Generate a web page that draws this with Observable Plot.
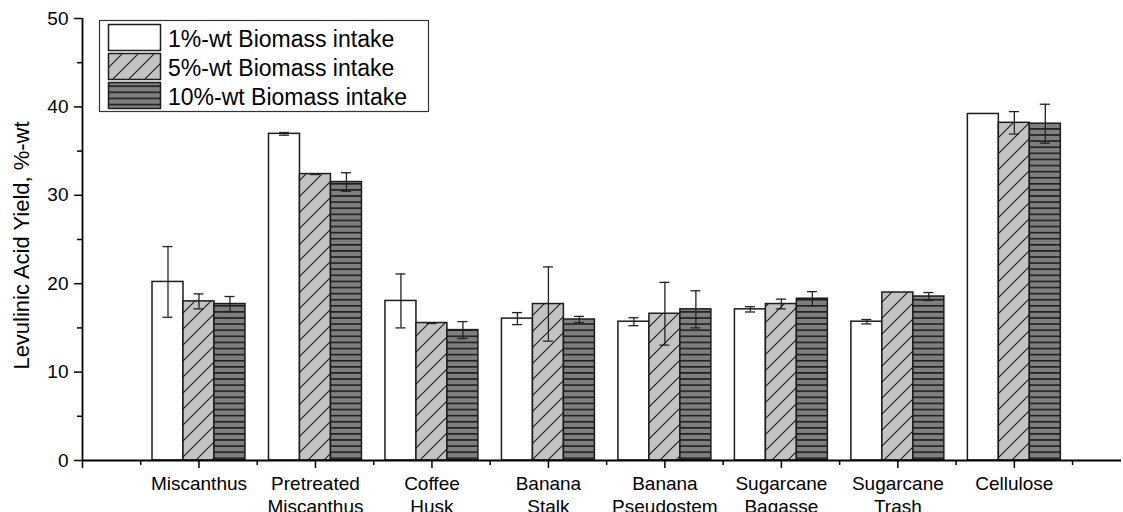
<!DOCTYPE html>
<html>
<head>
<meta charset="utf-8">
<script src="https://cdn.jsdelivr.net/npm/d3@7"></script>
<script src="https://cdn.jsdelivr.net/npm/@observablehq/plot@0.6"></script>
<style>
  html, body { margin: 0; padding: 0; background: #fff; }
  #chart { position: relative; width: 1123px; height: 512px; }
</style>
</head>
<body>
<div id="chart"></div>
<script>
// Feedstocks along the x axis (line breaks give two-line tick labels)
const categories = [
  "Miscanthus", "Pretreated\nMiscanthus", "Coffee\nHusk", "Banana\nStalk",
  "Banana\nPseudostem", "Sugarcane\nBagasse", "Sugarcane\nTrash", "Cellulose"
];
const seriesNames = ["1%-wt Biomass intake", "5%-wt Biomass intake", "10%-wt Biomass intake"];

// Levulinic acid yield (%-wt) and its error for each biomass intake
const yield1  = [20.2, 36.95, 18.05, 16.05, 15.7, 17.1, 15.7, 39.2];
const err1    = [4.0, 0.15, 3.05, 0.68, 0.45, 0.3, 0.25, 0];
const yield5  = [18.0, 32.4, 15.55, 17.7, 16.6, 17.7, 19.0, 38.2];
const err5    = [0.85, 0.05, 0.05, 4.2, 3.55, 0.55, 0, 1.27];
const yield10 = [17.7, 31.5, 14.75, 15.95, 17.1, 18.3, 18.55, 38.1];
const err10   = [0.85, 1.05, 0.96, 0.35, 2.1, 0.8, 0.45, 2.2];

const yTicks = [0, 10, 20, 30, 40, 50];
const yMinorTicks = [5, 15, 25, 35, 45];

// Flat table built from the arrays above: one row per bar
const seriesValues = [yield1, yield5, yield10];
const seriesErrors = [err1, err5, err10];
const rows = seriesValues.flatMap((vals, s) =>
  vals.map((v, i) => ({cat: i + 1, s, value: v, err: seriesErrors[s][i]}))
);

// Bar geometry in x-scale units (one category = 1 unit)
const BAR = 0.266;
const CAP = 0.086;
const center = d => d.cat + (d.s - 1) * BAR;
const fills = ["white", "url(#fill-diag)", "url(#fill-hlines)"];
const FONT = "'Liberation Sans', Arial, Helvetica, sans-serif";

const withErr = rows.filter(d => d.err > 0);
const majorX = d3.range(0, categories.length + 1);
const minorX = d3.range(0.5, categories.length + 1, 1);

const chart = Plot.plot({
  width: 1123,
  height: 512,
  marginLeft: 82,
  marginRight: 2,
  marginTop: 18,
  marginBottom: 52,
  style: {fontFamily: FONT, color: "black", background: "white", overflow: "visible"},
  x: {domain: [0, 8.92]},
  y: {domain: [0, 50]},
  marks: [
    // bars, one mark per intake level so each keeps its own fill
    ...[0, 1, 2].map(s => Plot.rect(rows.filter(d => d.s === s), {
      x1: d => center(d) - BAR / 2,
      x2: d => center(d) + BAR / 2,
      y1: 0,
      y2: "value",
      fill: fills[s],
      stroke: "#1c1c1c",
      strokeWidth: 1.5
    })),
    // error bars with caps
    Plot.ruleX(withErr, {x: center, y1: d => d.value - d.err, y2: d => d.value + d.err, stroke: "#222", strokeWidth: 1.3}),
    Plot.ruleY(withErr, {y: d => d.value + d.err, x1: d => center(d) - CAP / 2, x2: d => center(d) + CAP / 2, stroke: "#222", strokeWidth: 1.3}),
    Plot.ruleY(withErr, {y: d => d.value - d.err, x1: d => center(d) - CAP / 2, x2: d => center(d) + CAP / 2, stroke: "#222", strokeWidth: 1.3}),
    // y axis
    Plot.axisY({ticks: yTicks, tickSize: 8, tickPadding: 6, fontSize: 19, strokeWidth: 1.5, label: null}),
    Plot.axisY({ticks: yMinorTicks, tickSize: 5, tickFormat: () => "", strokeWidth: 1.5, label: null}),
    Plot.ruleX([0], {y1: 0, y2: 50, stroke: "black", strokeWidth: 1.8}),
    Plot.text(["Levulinic Acid Yield, %-wt"], {
      frameAnchor: "left", rotate: -90, lineAnchor: "top", textAnchor: "middle",
      dx: -69, dy: 6, fontSize: 22, fill: "black"
    }),
    // x axis with category labels and minor ticks between categories
    Plot.axisX({
      ticks: majorX, tickSize: 8, tickPadding: 6, fontSize: 19, lineHeight: 1.18, strokeWidth: 1.5,
      tickFormat: i => (i >= 1 ? categories[i - 1] : ""), label: null
    }),
    Plot.axisX({ticks: minorX, tickSize: 5, tickFormat: () => "", strokeWidth: 1.5, label: null}),
    Plot.ruleY([0], {stroke: "black", strokeWidth: 1.8})
  ]
});

document.getElementById("chart").appendChild(chart);

// Fill patterns for the hatched and striped bars
const svg = d3.select(chart);
const defs = svg.insert("defs", ":first-child");
const diag = defs.append("pattern")
  .attr("id", "fill-diag").attr("patternUnits", "userSpaceOnUse")
  .attr("width", 16).attr("height", 16);
diag.append("rect").attr("width", 16).attr("height", 16).attr("fill", "#c3c3c3");
diag.append("path").attr("d", "M-4,4L4,-4M0,16L16,0M12,20L20,12")
  .attr("stroke", "#1a1a1a").attr("stroke-width", 1.1);
const hl = defs.append("pattern")
  .attr("id", "fill-hlines").attr("patternUnits", "userSpaceOnUse")
  .attr("width", 8).attr("height", 6.1);
hl.append("rect").attr("width", 8).attr("height", 6.1).attr("fill", "#7f7f7f");
hl.append("rect").attr("width", 8).attr("height", 1.6).attr("fill", "#1e1e1e");

// Legend box inside the plot area, top-left
const legend = svg.append("g").attr("font-family", FONT).attr("text-anchor", "start");
legend.append("rect").attr("x", 99.5).attr("y", 20.5).attr("width", 329).attr("height", 91)
  .attr("fill", "white").attr("stroke", "#333").attr("stroke-width", 1.2);
seriesNames.forEach((name, s) => {
  const y0 = 24.5 + s * 29;
  legend.append("rect").attr("x", 108.5).attr("y", y0).attr("width", 52).attr("height", 26)
    .attr("fill", fills[s]).attr("stroke", "#1c1c1c").attr("stroke-width", 1.5);
  legend.append("text").attr("x", 168).attr("y", y0 + 22).attr("font-size", 23)
    .attr("text-anchor", "start").attr("fill", "black").text(name);
});
</script>
</body>
</html>
